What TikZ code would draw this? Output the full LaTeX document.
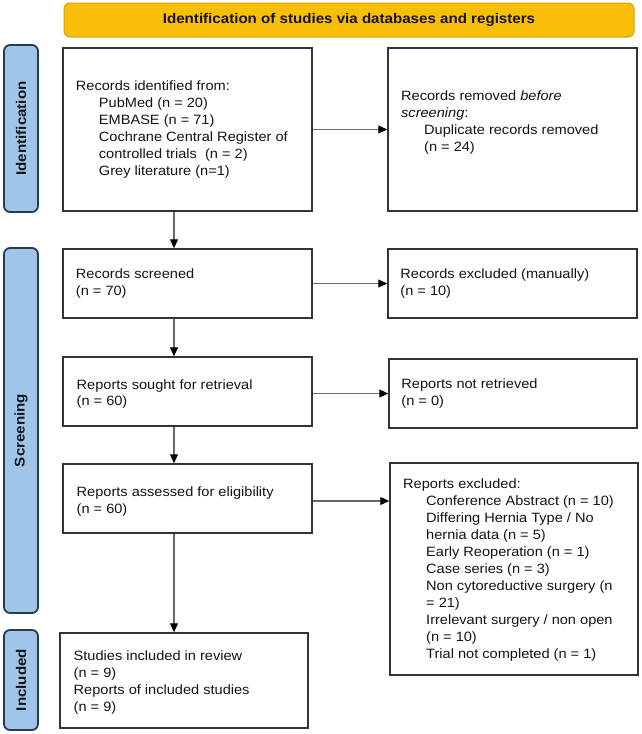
\documentclass[tikz,border=0pt]{standalone}
\usepackage{fontspec}
\setmainfont{Liberation Sans}[FakeStretch=1.08]
\usetikzlibrary{arrows.meta}
\definecolor{hdrfill}{HTML}{F8BE0A}
\definecolor{hdrdraw}{HTML}{D6A200}
\definecolor{barfill}{HTML}{9FC5EA}
\definecolor{bardraw}{HTML}{2C3A4E}
\definecolor{boxdraw}{HTML}{333333}
\definecolor{arrowline}{HTML}{6A6A6A}
\definecolor{textcol}{HTML}{141414}
\newcommand{\indt}{\hspace*{23pt}}
\begin{document}
\begin{tikzpicture}[x=1pt,y=-1pt,
  hdr/.style={draw=hdrdraw, line width=1pt, fill=hdrfill, rounded corners=6pt, minimum width=570pt, minimum height=34pt, inner sep=0pt, text=textcol, font=\fontsize{14}{16}\selectfont\bfseries},
  bar/.style={draw=bardraw, line width=1.8pt, fill=barfill, rounded corners=6pt, minimum width=34pt, inner sep=0pt},
  barlbl/.style={rotate=90, inner sep=0pt, text=textcol, font=\fontsize{14}{16}\selectfont\bfseries},
  box/.style={draw=boxdraw, line width=1.5pt, fill=white, inner sep=0pt, minimum width=249pt},
  txtnode/.style={align=left, anchor=west, inner sep=0pt, text=textcol, font=\fontsize{13.5}{17}\selectfont},
  arr/.style={draw=arrowline, line width=1.1pt, -{Triangle[length=9pt,width=8pt,color=black]}}
]
\fill[white] (0,0) rectangle (641,734);
\useasboundingbox (0,0) rectangle (641,734);

% header
\node[hdr] (hdr) at (349,20) {Identification of studies via databases and registers};

% side bars
\node[bar, minimum height=167pt] (identBar) at (21,128.5) {};
\node[barlbl] (identLbl) at (identBar.center) {Identification};
\node[bar, minimum height=365pt] (screenBar) at (21,430.5) {};
\node[barlbl] (screenLbl) at (screenBar.center) {Screening};
\node[bar, minimum height=100pt] (inclBar) at (21,680) {};
\node[barlbl] (inclLbl) at (inclBar.center) {Included};

% boxes
\node[box, minimum height=163pt] (A) at (187.5,129.5) {};
\node[box, minimum height=163pt] (B) at (512.5,129.5) {};
\node[box, minimum height=69pt] (C) at (187.5,283.5) {};
\node[box, minimum height=69pt] (D) at (512.5,283.5) {};
\node[box, minimum height=69pt] (E) at (187.5,391.5) {};
\node[box, minimum height=69pt, minimum width=248pt] (F) at (513,393.5) {};
\node[box, minimum height=69pt] (G) at (187.5,498.5) {};
\node[box, minimum height=212pt, minimum width=248pt] (H) at (514,569) {};
\node[box, minimum height=95pt, minimum width=248pt] (I) at (184,680.5) {};

% texts
\node[txtnode] (At) at ([xshift=13.5pt]A.west) {Records identified from:\\
\indt PubMed (n = 20)\\
\indt EMBASE (n = 71)\\
\indt Cochrane Central Register of\\
\indt controlled trials\ \ (n = 2)\\
\indt Grey literature (n=1)};
\node[txtnode] (Bt) at (401,123) {Records removed \textit{before}\\
\textit{screening}:\\
\indt Duplicate records removed\\
\indt (n = 24)};
\node[txtnode] (Ct) at ([xshift=13.5pt]C.west) {Records screened\\(n = 70)};
\node[txtnode] (Dt) at ([xshift=13pt]D.west) {Records excluded (manually)\\(n = 10)};
\node[txtnode] (Et) at (76.5,394) {Reports sought for retrieval\\(n = 60)};
\node[txtnode] (Ft) at ([xshift=13pt]F.west) {Reports not retrieved\\(n = 0)};
\node[txtnode] (Gt) at (76.5,501) {Reports assessed for eligibility\\(n = 60)};
\node[txtnode] (Ht) at (403,570.5) {Reports excluded:\\
\indt Conference Abstract (n = 10)\\
\indt Differing Hernia Type / No\\
\indt hernia data (n = 5)\\
\indt Early Reoperation (n = 1)\\
\indt Case series (n = 3)\\
\indt Non cytoreductive surgery (n\\
\indt = 21)\\
\indt Irrelevant surgery / non open\\
\indt (n = 10)\\
\indt Trial not completed (n = 1)};
\node[txtnode] (It) at (73.5,682) {Studies included in review\\(n = 9)\\Reports of included studies\\(n = 9)};

% connectors
\coordinate (vx) at (174,0);
\draw[arr] (A.south -| vx) -- (C.north -| vx);
\draw[arr] (C.south -| vx) -- (E.north -| vx);
\draw[arr] (E.south -| vx) -- (G.north -| vx);
\draw[arr] (G.south -| vx) -- (I.north -| vx);
\draw[arr] (A.east) -- (B.west);
\draw[arr] (C.east) -- (D.west);
\draw[arr] (E.east |- F.west) -- (F.west);
\draw[arr] ([yshift=-2.5pt]G.east) -- ([yshift=-2.5pt]G.east -| H.west);
\end{tikzpicture}
\end{document}
